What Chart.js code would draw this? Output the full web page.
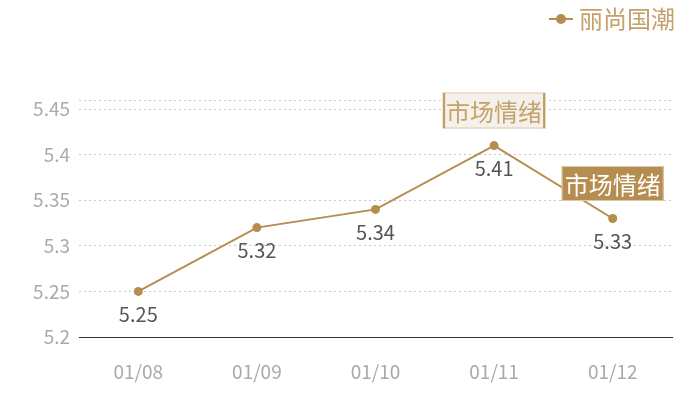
<!DOCTYPE html>
<html>
<head>
<meta charset="utf-8">
<script src="https://cdn.jsdelivr.net/npm/chart.js@4/dist/chart.umd.min.js"></script>
<style>
  html, body { margin: 0; padding: 0; background: #fff; }
  #wrap { width: 700px; height: 400px; }
</style>
</head>
<body>
<div id="wrap"><canvas id="myChart" width="700" height="400"></canvas></div>
<script>
// datos del gráfico
const categorias = ['01/08', '01/09', '01/10', '01/11', '01/12'];
const valores = [5.25, 5.32, 5.34, 5.41, 5.33];
const serieNombre = '丽尚国潮';
const marcaIndices = [3, 4];
const marcaTexto = '市场情绪';
const ejeTicks = [5.2, 5.25, 5.3, 5.35, 5.4, 5.45];
const ejeMin = 5.2;
const ejeMax = 5.46;

const ORO = '#b68d50';
const fuenteNum = '"Noto Sans CJK SC", "Noto Sans", sans-serif';

// etiquetas de valor, cajas y leyenda dibujadas a mano
const extrasPlugin = {
    id: 'extras',
    afterDatasetsDraw(chart) {
        const ctx = chart.ctx;
        const meta = chart.getDatasetMeta(0);

        // valores debajo de cada punto
        ctx.save();
        ctx.font = '20px ' + fuenteNum;
        ctx.fillStyle = '#555';
        ctx.textAlign = 'center';
        ctx.textBaseline = 'middle';
        meta.data.forEach((pt, i) => {
            ctx.fillText(String(valores[i]), pt.x, pt.y + 23);
        });
        ctx.restore();

        // cajas "市场情绪"
        marcaIndices.forEach((idx, k) => {
            const pt = meta.data[idx];
            const w = 102, h = 35;
            const x = pt.x - w / 2, y = pt.y - 35 - h / 2;
            ctx.save();
            if (k === 0) {
                ctx.fillStyle = '#f4f0ea';
                ctx.fillRect(x, y, w, h);
                ctx.strokeStyle = '#e3d6c0';
                ctx.lineWidth = 1.5;
                ctx.strokeRect(x, y, w, h);
                ctx.fillStyle = '#c29b5e';
                ctx.fillRect(x, y, 2, h);
                ctx.fillRect(x + w - 2, y, 2, h);
                ctx.fillStyle = '#c4a26c';
            } else {
                ctx.fillStyle = ORO;
                ctx.fillRect(x, y, w, h);
                ctx.strokeStyle = '#dcc9a8';
                ctx.lineWidth = 1;
                ctx.strokeRect(x + 0.5, y + 0.5, w - 1, h - 1);
                ctx.fillStyle = '#fff';
            }
            ctx.font = '24px "Noto Sans CJK SC", sans-serif';
            ctx.textAlign = 'center';
            ctx.textBaseline = 'middle';
            ctx.fillText(marcaTexto, pt.x, y + h / 2 + 1);
            ctx.restore();
        });

        // leyenda arriba a la derecha
        ctx.save();
        const ly = 19;
        ctx.strokeStyle = ORO;
        ctx.lineWidth = 2;
        ctx.beginPath();
        ctx.moveTo(549, ly);
        ctx.lineTo(573, ly);
        ctx.stroke();
        ctx.fillStyle = ORO;
        ctx.beginPath();
        ctx.arc(561, ly, 5, 0, Math.PI * 2);
        ctx.fill();
        ctx.font = '24px "Noto Sans CJK SC", sans-serif';
        ctx.fillStyle = '#c4a06a';
        ctx.textAlign = 'left';
        ctx.textBaseline = 'middle';
        ctx.fillText(serieNombre, 579, ly);
        ctx.restore();
    }
};

const ctx = document.getElementById('myChart').getContext('2d');

new Chart(ctx, {
    type: 'line',
    data: {
        labels: categorias,
        datasets: [{
            label: serieNombre,
            data: valores,
            borderColor: ORO,
            backgroundColor: ORO,
            borderWidth: 2,
            pointRadius: 4.5,
            pointBackgroundColor: ORO,
            pointBorderWidth: 0,
            tension: 0,
            fill: false
        }]
    },
    options: {
        responsive: false,
        animation: false,
        layout: { padding: { top: 100, right: 28, left: 0, bottom: 0 } },
        plugins: {
            legend: { display: false },
            tooltip: { enabled: false }
        },
        scales: {
            x: {
                offset: true,
                grid: { display: false, drawTicks: false },
                border: { display: true, color: '#333', width: 1 },
                ticks: {
                    color: '#aaa',
                    padding: 23,
                    font: { size: 19, family: fuenteNum }
                },
                afterFit(scale) { scale.height = 63; }
            },
            y: {
                min: ejeMin,
                max: ejeMax,
                grid: {
                    color: '#c8c8c8',
                    drawTicks: false
                },
                border: { display: false, dash: [2, 3] },
                ticks: {
                    color: '#aaa',
                    padding: 9,
                    font: { size: 19, family: fuenteNum },
                    callback: v => Math.abs(v - ejeMax) < 1e-6 ? '' : String(+v.toFixed(2))
                },
                // marcas fijas del eje, más la línea superior en el máximo
                afterBuildTicks(scale) {
                    scale.ticks = ejeTicks.concat([ejeMax]).map(v => ({ value: v }));
                },
                afterFit(scale) { scale.width = 79; }
            }
        }
    },
    plugins: [extrasPlugin]
});
</script>
</body>
</html>
